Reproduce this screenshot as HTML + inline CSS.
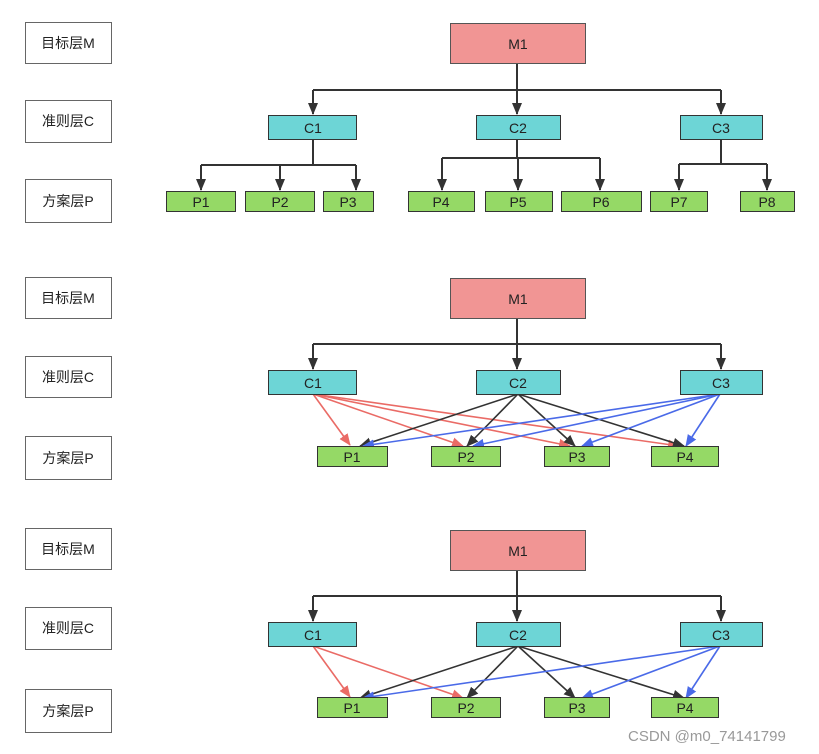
<!DOCTYPE html>
<html><head><meta charset="utf-8"><style>
html,body{margin:0;padding:0;background:#fff;}
svg{display:block;}
text{font-family:"Liberation Sans","Noto Sans CJK SC",sans-serif;font-size:14px;fill:#222;}
</style></head><body>
<svg width="819" height="754" viewBox="0 0 819 754" xmlns="http://www.w3.org/2000/svg">
<defs>
<marker id="ak" markerUnits="userSpaceOnUse" markerWidth="12" markerHeight="12" viewBox="0 0 12 12" refX="11" refY="6" orient="auto"><path d="M0,1 L12,6 L0,11 Z" fill="#333"/></marker>
<marker id="ar" markerUnits="userSpaceOnUse" markerWidth="12" markerHeight="12" viewBox="0 0 12 12" refX="11" refY="6" orient="auto"><path d="M0,1 L12,6 L0,11 Z" fill="#ea6b66"/></marker>
<marker id="ab" markerUnits="userSpaceOnUse" markerWidth="12" markerHeight="12" viewBox="0 0 12 12" refX="11" refY="6" orient="auto"><path d="M0,1 L12,6 L0,11 Z" fill="#4a6ae8"/></marker>
</defs>

<!-- labels -->
<g fill="#fff" stroke="#666" stroke-width="1">
<rect x="25.5" y="22.5" width="86" height="41"/><rect x="25.5" y="100.5" width="86" height="42"/><rect x="25.5" y="179.5" width="86" height="43"/>
<rect x="25.5" y="277.5" width="86" height="41"/><rect x="25.5" y="356.5" width="86" height="41"/><rect x="25.5" y="436.5" width="86" height="43"/>
<rect x="25.5" y="528.5" width="86" height="41"/><rect x="25.5" y="607.5" width="86" height="42"/><rect x="25.5" y="689.5" width="86" height="43"/>
</g>
<g text-anchor="middle">
<text x="68" y="48">目标层M</text><text x="68" y="126">准则层C</text><text x="68" y="206">方案层P</text>
<text x="68" y="303">目标层M</text><text x="68" y="382">准则层C</text><text x="68" y="463">方案层P</text>
<text x="68" y="554">目标层M</text><text x="68" y="633">准则层C</text><text x="68" y="716">方案层P</text>
</g>

<!-- Section 1 -->
<g fill="none" stroke="#333" stroke-width="2">
<path d="M517,63 V90"/><path d="M313,90 H721"/>
<path d="M313,90 V114" marker-end="url(#ak)"/><path d="M517,90 V114" marker-end="url(#ak)"/><path d="M721,90 V114" marker-end="url(#ak)"/>
<path d="M313,140 V165 M201,165 H356"/>
<path d="M201,165 V190" marker-end="url(#ak)"/><path d="M280,165 V190" marker-end="url(#ak)"/><path d="M356,165 V190" marker-end="url(#ak)"/>
<path d="M517,140 V158 M442,158 H600"/>
<path d="M442,158 V190" marker-end="url(#ak)"/><path d="M518,158 V190" marker-end="url(#ak)"/><path d="M600,158 V190" marker-end="url(#ak)"/>
<path d="M721,140 V164 M679,164 H767"/>
<path d="M679,164 V190" marker-end="url(#ak)"/><path d="M767,164 V190" marker-end="url(#ak)"/>
</g>
<rect x="450.5" y="23.5" width="135" height="40" fill="#f19594" stroke="#555"/>
<g fill="#6dd5d6" stroke="#333"><rect x="268.5" y="115.5" width="88" height="24"/><rect x="476.5" y="115.5" width="84" height="24"/><rect x="680.5" y="115.5" width="82" height="24"/></g>
<g fill="#95d966" stroke="#333">
<rect x="166.5" y="191.5" width="69" height="20"/><rect x="245.5" y="191.5" width="69" height="20"/><rect x="323.5" y="191.5" width="50" height="20"/>
<rect x="408.5" y="191.5" width="66" height="20"/><rect x="485.5" y="191.5" width="67" height="20"/><rect x="561.5" y="191.5" width="80" height="20"/>
<rect x="650.5" y="191.5" width="57" height="20"/><rect x="740.5" y="191.5" width="54" height="20"/>
</g>
<g text-anchor="middle">
<text x="518" y="49">M1</text><text x="313" y="133">C1</text><text x="518" y="133">C2</text><text x="721" y="133">C3</text>
<text x="201" y="207">P1</text><text x="280" y="207">P2</text><text x="348" y="207">P3</text><text x="441" y="207">P4</text><text x="518" y="207">P5</text><text x="601" y="207">P6</text><text x="679" y="207">P7</text><text x="767" y="207">P8</text>
</g>

<!-- Section 2 -->
<g fill="none" stroke="#333" stroke-width="2">
<path d="M517,318 V344"/><path d="M313,344 H721"/>
<path d="M313,344 V369" marker-end="url(#ak)"/><path d="M517,344 V369" marker-end="url(#ak)"/><path d="M721,344 V369" marker-end="url(#ak)"/>
</g>
<g fill="none" stroke-width="1.6">
<g stroke="#ea6b66"><path d="M313,394 L350,445" marker-end="url(#ar)"/><path d="M313,394 L463,446" marker-end="url(#ar)"/><path d="M313,394 L570,446" marker-end="url(#ar)"/><path d="M313,394 L679,446" marker-end="url(#ar)"/></g>
<g stroke="#333"><path d="M518,394 L360,446" marker-end="url(#ak)"/><path d="M518,394 L467,446" marker-end="url(#ak)"/><path d="M518,394 L575,446" marker-end="url(#ak)"/><path d="M518,394 L684,446" marker-end="url(#ak)"/></g>
<g stroke="#4a6ae8"><path d="M720,394 L363,446" marker-end="url(#ab)"/><path d="M720,394 L473,446" marker-end="url(#ab)"/><path d="M720,394 L582,446" marker-end="url(#ab)"/><path d="M720,394 L686,446" marker-end="url(#ab)"/></g>
</g>
<rect x="450.5" y="278.5" width="135" height="40" fill="#f19594" stroke="#555"/>
<g fill="#6dd5d6" stroke="#333"><rect x="268.5" y="370.5" width="88" height="24"/><rect x="476.5" y="370.5" width="84" height="24"/><rect x="680.5" y="370.5" width="82" height="24"/></g>
<g fill="#95d966" stroke="#333">
<rect x="317.5" y="446.5" width="70" height="20"/><rect x="431.5" y="446.5" width="69" height="20"/><rect x="544.5" y="446.5" width="65" height="20"/><rect x="651.5" y="446.5" width="67" height="20"/>
</g>
<g text-anchor="middle">
<text x="518" y="304">M1</text><text x="313" y="388">C1</text><text x="518" y="388">C2</text><text x="721" y="388">C3</text>
<text x="352" y="462">P1</text><text x="466" y="462">P2</text><text x="577" y="462">P3</text><text x="685" y="462">P4</text>
</g>

<!-- Section 3 -->
<g fill="none" stroke="#333" stroke-width="2">
<path d="M517,570 V596"/><path d="M313,596 H721"/>
<path d="M313,596 V621" marker-end="url(#ak)"/><path d="M517,596 V621" marker-end="url(#ak)"/><path d="M721,596 V621" marker-end="url(#ak)"/>
</g>
<g fill="none" stroke-width="1.6">
<g stroke="#ea6b66"><path d="M313,646 L350,697" marker-end="url(#ar)"/><path d="M313,646 L463,698" marker-end="url(#ar)"/></g>
<g stroke="#333"><path d="M518,646 L360,698" marker-end="url(#ak)"/><path d="M518,646 L467,698" marker-end="url(#ak)"/><path d="M518,646 L575,698" marker-end="url(#ak)"/><path d="M518,646 L684,698" marker-end="url(#ak)"/></g>
<g stroke="#4a6ae8"><path d="M720,646 L363,698" marker-end="url(#ab)"/><path d="M720,646 L582,698" marker-end="url(#ab)"/><path d="M720,646 L686,698" marker-end="url(#ab)"/></g>
</g>
<rect x="450.5" y="530.5" width="135" height="40" fill="#f19594" stroke="#555"/>
<g fill="#6dd5d6" stroke="#333"><rect x="268.5" y="622.5" width="88" height="24"/><rect x="476.5" y="622.5" width="84" height="24"/><rect x="680.5" y="622.5" width="82" height="24"/></g>
<g fill="#95d966" stroke="#333">
<rect x="317.5" y="697.5" width="70" height="20"/><rect x="431.5" y="697.5" width="69" height="20"/><rect x="544.5" y="697.5" width="65" height="20"/><rect x="651.5" y="697.5" width="67" height="20"/>
</g>
<g text-anchor="middle">
<text x="518" y="556">M1</text><text x="313" y="640">C1</text><text x="518" y="640">C2</text><text x="721" y="640">C3</text>
<text x="352" y="713">P1</text><text x="466" y="713">P2</text><text x="577" y="713">P3</text><text x="685" y="713">P4</text>
</g>

<text x="628" y="741" style="font-size:15px;fill:#999">CSDN @m0_74141799</text>
</svg>
</body></html>
